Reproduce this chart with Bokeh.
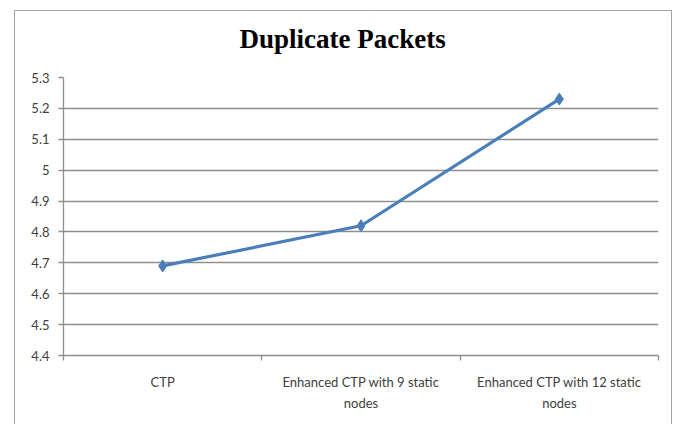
from bokeh.plotting import figure
from bokeh.models import FixedTicker, Range1d, Title
from bokeh.embed import file_html
from bokeh.resources import INLINE

# ---- data ----
categories = ["CTP",
              "Enhanced CTP with 9 static\nnodes",
              "Enhanced CTP with 12 static\nnodes"]
duplicates = [4.69, 4.82, 5.23]
y_ticks = [4.4, 4.5, 4.6, 4.7, 4.8, 4.9, 5.0, 5.1, 5.2, 5.3]
y_labels = ["4.4", "4.5", "4.6", "4.7", "4.8", "4.9", "5", "5.1", "5.2", "5.3"]
title_text = "Duplicate Packets"

positions = [i + 0.5 for i in range(len(categories))]
boundaries = list(range(len(categories) + 1))

GRID = "#8e8e8e"
BLUE = "#4a7ebb"
LABEL_FONT = "Lato"
BOX = "1px solid #a4a4a4"

p = figure(width=658, height=414,
           x_range=Range1d(0, len(categories)),
           y_range=Range1d(y_ticks[0], y_ticks[-1]),
           output_backend="svg", toolbar_location=None,
           min_border_left=48, min_border_right=15,
           min_border_top=66, min_border_bottom=70)
p.margin = (10, 0, 0, 14)
p.styles = {"border-left": BOX, "border-top": BOX, "border-right": BOX}
p.outline_line_color = None
p.background_fill_color = "white"
p.border_fill_color = "white"

# spacer between the frame and the title, then the title itself
p.add_layout(Title(text=" ", text_font_size="2px", standoff=10), "above")
p.add_layout(Title(text=title_text, align="left", offset=176, standoff=20,
                   text_font="Liberation Serif", text_font_style="bold",
                   text_font_size="27px", text_color="black"), "above")

# grid
p.xgrid.visible = False
p.ygrid.ticker = FixedTicker(ticks=y_ticks)
p.ygrid.grid_line_color = GRID
p.ygrid.grid_line_width = 1.3

# y axis
ya = p.yaxis[0]
ya.ticker = FixedTicker(ticks=y_ticks, minor_ticks=[])
ya.major_label_overrides = dict(zip(y_ticks, y_labels))
ya.axis_line_color = GRID
ya.axis_line_width = 1.3
ya.major_tick_line_color = GRID
ya.major_tick_line_width = 1.3
ya.major_tick_out = 5
ya.major_tick_in = 0
ya.major_label_standoff = 9
ya.major_label_text_font = LABEL_FONT
ya.major_label_text_font_size = "13px"
ya.major_label_text_color = "#404040"

# x axis
xa = p.xaxis[0]
xa.ticker = FixedTicker(ticks=positions, minor_ticks=boundaries)
xa.major_label_overrides = dict(zip(positions, categories))
xa.axis_line_color = GRID
xa.axis_line_width = 1.3
xa.major_tick_line_color = None
xa.major_tick_out = 0
xa.major_tick_in = 0
xa.minor_tick_line_color = GRID
xa.minor_tick_line_width = 1.3
xa.minor_tick_out = 5
xa.minor_tick_in = 0
xa.major_label_standoff = 13
xa.major_label_text_font = LABEL_FONT
xa.major_label_text_font_size = "13px"
xa.major_label_text_color = "#404040"
xa.major_label_text_line_height = 1.35

# series
p.line(positions, duplicates, line_color=BLUE, line_width=3.2)
p.scatter(positions, duplicates, marker="diamond", size=12,
          fill_color=BLUE, line_color=BLUE)

open("out.html", "w").write(file_html(p, INLINE))
